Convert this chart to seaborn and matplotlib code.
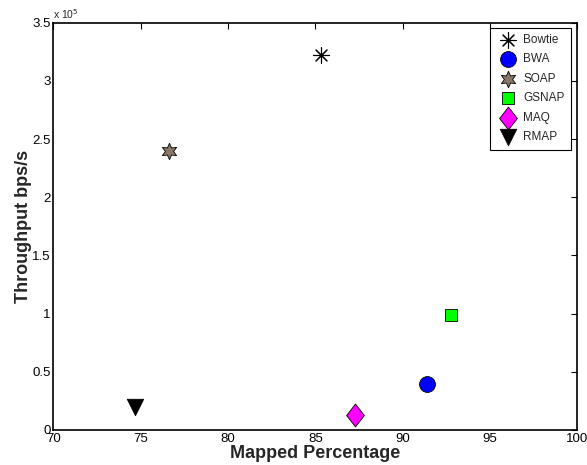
import numpy as np
import matplotlib
matplotlib.use("Agg")
import matplotlib.pyplot as plt
import seaborn as sns
from matplotlib.path import Path
from matplotlib.ticker import FuncFormatter, MultipleLocator

# data
tools = ['Bowtie', 'BWA', 'SOAP', 'GSNAP', 'MAQ', 'RMAP']
mapped_pct = [85.35, 91.4, 76.65, 92.75, 87.3, 74.65]
throughput = [3.225e5, 0.395e5, 2.40e5, 0.99e5, 0.13e5, 0.20e5]

# marker styling per tool
diamond = Path([(0, 1), (0.78, 0), (0, -1), (-0.78, 0), (0, 1)],
               [Path.MOVETO, Path.LINETO, Path.LINETO, Path.LINETO, Path.CLOSEPOLY])
markers = {'Bowtie': (8, 2, 0), 'BWA': 'o', 'SOAP': (6, 1, 0),
           'GSNAP': 's', 'MAQ': diamond, 'RMAP': 'v'}
colors = {'Bowtie': 'black', 'BWA': '#0000ff', 'SOAP': '#8b7765',
          'GSNAP': '#00ff00', 'MAQ': '#ff00ff', 'RMAP': 'black'}
sizes = {'Bowtie': 125, 'BWA': 130, 'SOAP': 140, 'GSNAP': 78, 'MAQ': 270, 'RMAP': 140}

sns.set_style('white')
plt.rcParams['font.family'] = ['Liberation Sans', 'DejaVu Sans']

fig = plt.figure(figsize=(5.87, 4.65), dpi=100)
ax = fig.add_axes([0.0908, 0.0753, 0.8927, 0.876])

for t, x, y in zip(tools, mapped_pct, throughput):
    if t == 'Bowtie':
        sns.scatterplot(x=[x], y=[y], marker=markers[t], color=colors[t], s=sizes[t],
                        linewidth=0.8, label=t, ax=ax)
    else:
        sns.scatterplot(x=[x], y=[y], marker=markers[t], color=colors[t], s=sizes[t],
                        edgecolor='black', linewidth=0.6, label=t, ax=ax)

ax.set_xlim(70, 100)
ax.set_ylim(0, 3.5e5)
ax.xaxis.set_major_locator(MultipleLocator(5))
ax.yaxis.set_major_locator(MultipleLocator(0.5e5))
ax.yaxis.set_major_formatter(FuncFormatter(lambda v, p: '%g' % (v / 1e5)))

ax.tick_params(direction='in', length=4, width=0.8, top=True, right=True,
               labelsize=9.5, pad=2, colors='black')
for s in ax.spines.values():
    s.set_visible(True)
    s.set_color('black')
    s.set_linewidth(1.2)

ax.set_xlabel('Mapped Percentage', fontsize=13, fontweight='bold', labelpad=0)
ax.set_ylabel('Throughput bps/s', fontsize=13, fontweight='bold', labelpad=0)
ax.text(0.0, 1.005, 'x 10$^5$', transform=ax.transAxes, fontsize=7.5,
        ha='left', va='bottom')

leg = ax.legend(loc='upper right', bbox_to_anchor=(0.9885, 0.988), fontsize=8.5,
                frameon=True, fancybox=False, edgecolor='black', framealpha=1,
                handletextpad=0.35, labelspacing=0.63, borderpad=0.55,
                handlelength=1.9, borderaxespad=0)
leg.get_frame().set_linewidth(0.8)

fig.savefig('out.png', dpi=100)
